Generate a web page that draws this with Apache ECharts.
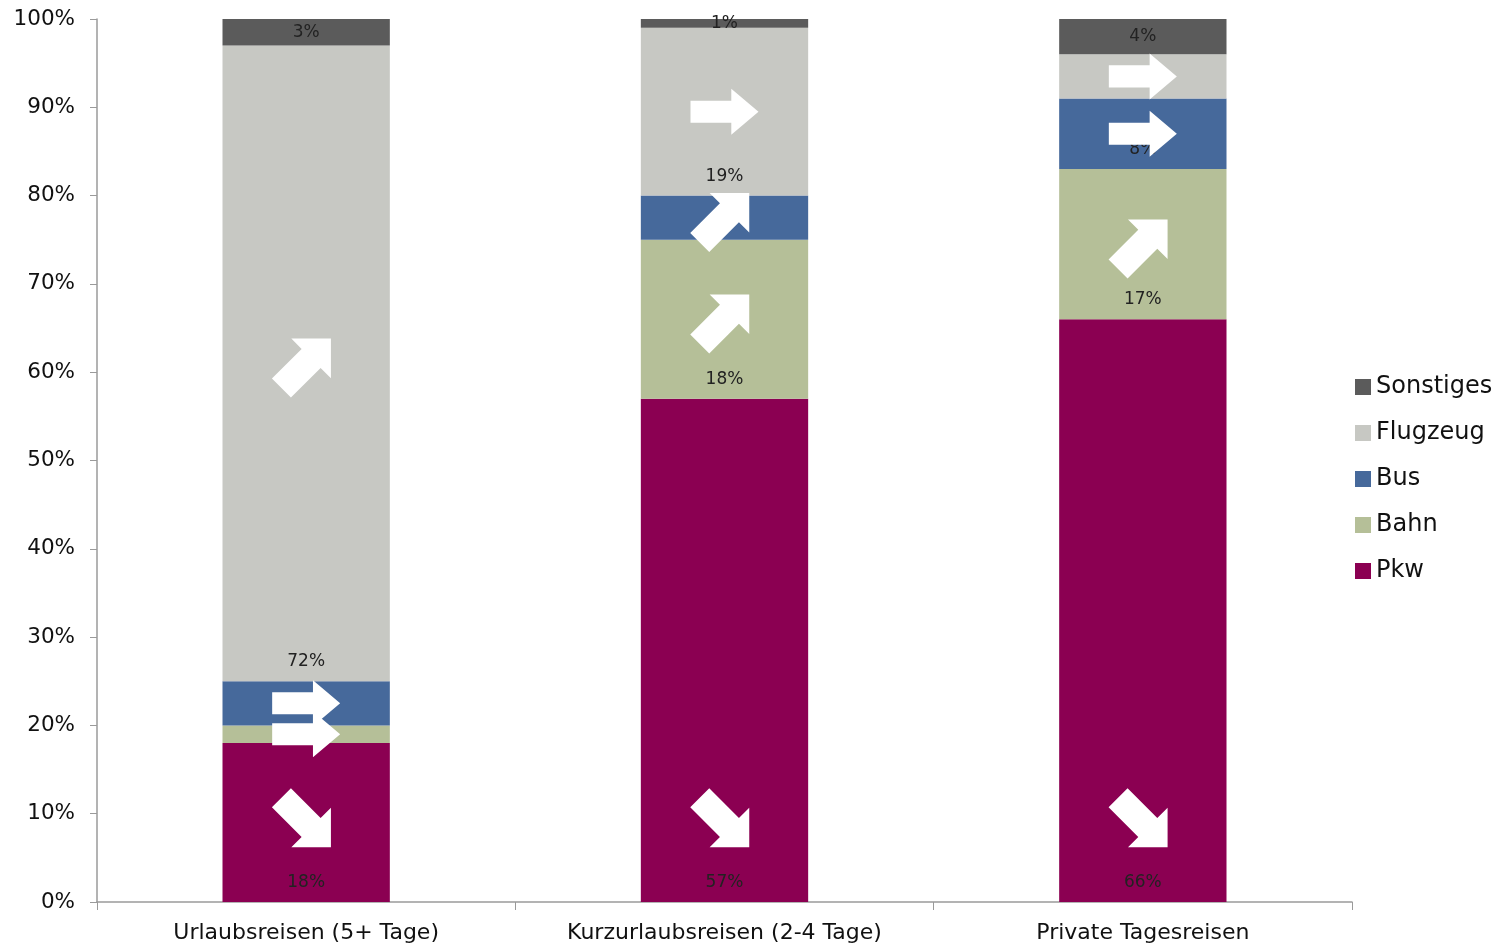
<!DOCTYPE html>
<html>
<head>
<meta charset="utf-8">
<script src="https://cdn.jsdelivr.net/npm/echarts@6/dist/echarts.min.js"></script>
<style>
html,body{margin:0;padding:0;background:#fff;}
#chart{width:1503px;height:946px;}
</style>
</head>
<body>
<div id="chart"></div>
<script>
// ---- data ----
const categories = ['Urlaubsreisen (5+ Tage)', 'Kurzurlaubsreisen (2-4 Tage)', 'Private Tagesreisen'];
const seriesNames = ['Pkw', 'Bahn', 'Bus', 'Flugzeug', 'Sonstiges'];
const pkw       = [18, 57, 66];
const bahn      = [2, 18, 17];
const bus       = [5, 5, 8];
const flugzeug  = [72, 19, 5];
const sonstiges = [3, 1, 4];
const yTicks = [0, 10, 20, 30, 40, 50, 60, 70, 80, 90, 100];
// trend arrows per category: 'up' (rising), 'flat', 'down', null = none
const trendPkw       = ['down', 'down', 'down'];
const trendBahn      = ['flat', 'up', 'up'];
const trendBus       = ['flat', 'up', 'flat'];
const trendFlugzeug  = ['up', 'flat', 'flat'];
const trendSonstiges = [null, null, null];
const pkwArrowLevel = 9; // Pkw arrows sit low in the bar

// ---- build ----
const values = [pkw, bahn, bus, flugzeug, sonstiges];
const trends = [trendPkw, trendBahn, trendBus, trendFlugzeug, trendSonstiges];
const colors = ['#8B0052', '#B5BF98', '#46699B', '#C7C8C3', '#5B5B5B'];
const FONT = '"DejaVu Sans", "Noto Sans", sans-serif';

const barSeries = seriesNames.map((name, i) => ({
  name: name,
  type: 'bar',
  stack: 'total',
  barWidth: '40%',
  data: values[i].map(v => ({
    value: v,
    label: { position: v < 5 ? 'inside' : 'insideBottom' }
  })),
  itemStyle: { color: colors[i] },
  label: {
    show: true,
    position: 'insideBottom',
    distance: 11,
    formatter: '{c}%',
    color: '#222',
    fontSize: 17,
    fontFamily: FONT
  },
  z: 2
}));

const arrowData = [];
categories.forEach((c, ci) => {
  let base = 0;
  values.forEach((arr, si) => {
    const v = arr[ci];
    const t = trends[si][ci];
    if (t) {
      const y = si === 0 ? pkwArrowLevel : base + v / 2;
      arrowData.push({ value: [c, y], trend: t });
    }
    base += v;
  });
});

const ARROW = 'path://M0,26 L60,26 L60,0 L100,50 L60,100 L60,74 L0,74 Z';

const option = {
  animation: false,
  backgroundColor: '#fff',
  grid: { left: 97, right: 151, top: 19, bottom: 44, containLabel: false },
  legend: {
    orient: 'vertical',
    left: 1350,
    top: 370,
    data: ['Sonstiges', 'Flugzeug', 'Bus', 'Bahn', 'Pkw'],
    itemWidth: 16,
    itemHeight: 16,
    itemGap: 22,
    icon: 'rect',
    textStyle: { fontSize: 24, color: '#111', fontFamily: FONT }
  },
  xAxis: {
    type: 'category',
    data: categories,
    axisLine: { lineStyle: { color: '#9a9a9a', width: 1.5 } },
    axisTick: { show: true, alignWithLabel: false, length: 8, lineStyle: { color: '#9a9a9a' } },
    axisLabel: { fontSize: 22, color: '#111', fontFamily: FONT, margin: 20 }
  },
  yAxis: {
    type: 'value',
    min: 0,
    max: 100,
    interval: 10,
    splitLine: { show: false },
    axisLine: { show: true, lineStyle: { color: '#9a9a9a', width: 1.5 } },
    axisTick: { show: true, length: 7, lineStyle: { color: '#9a9a9a' } },
    axisLabel: {
      fontSize: 21.5, color: '#111', fontFamily: FONT, margin: 22,
      formatter: v => yTicks.includes(v) ? v + '%' : ''
    }
  },
  series: barSeries.concat([{
    type: 'scatter',
    name: 'trend',
    z: 10,
    silent: true,
    data: arrowData,
    symbol: ARROW,
    symbolSize: (val, p) => p.data.trend === 'flat' ? [68, 46] : [70, 56],
    symbolRotate: (val, p) => p.data.trend === 'up' ? 45 : (p.data.trend === 'down' ? -45 : 0),
    itemStyle: { color: '#ffffff', opacity: 1 },
    label: { show: false }
  }])
};

const chart = echarts.init(document.getElementById('chart'), null, { renderer: 'canvas' });
chart.setOption(option);
</script>
</body>
</html>
